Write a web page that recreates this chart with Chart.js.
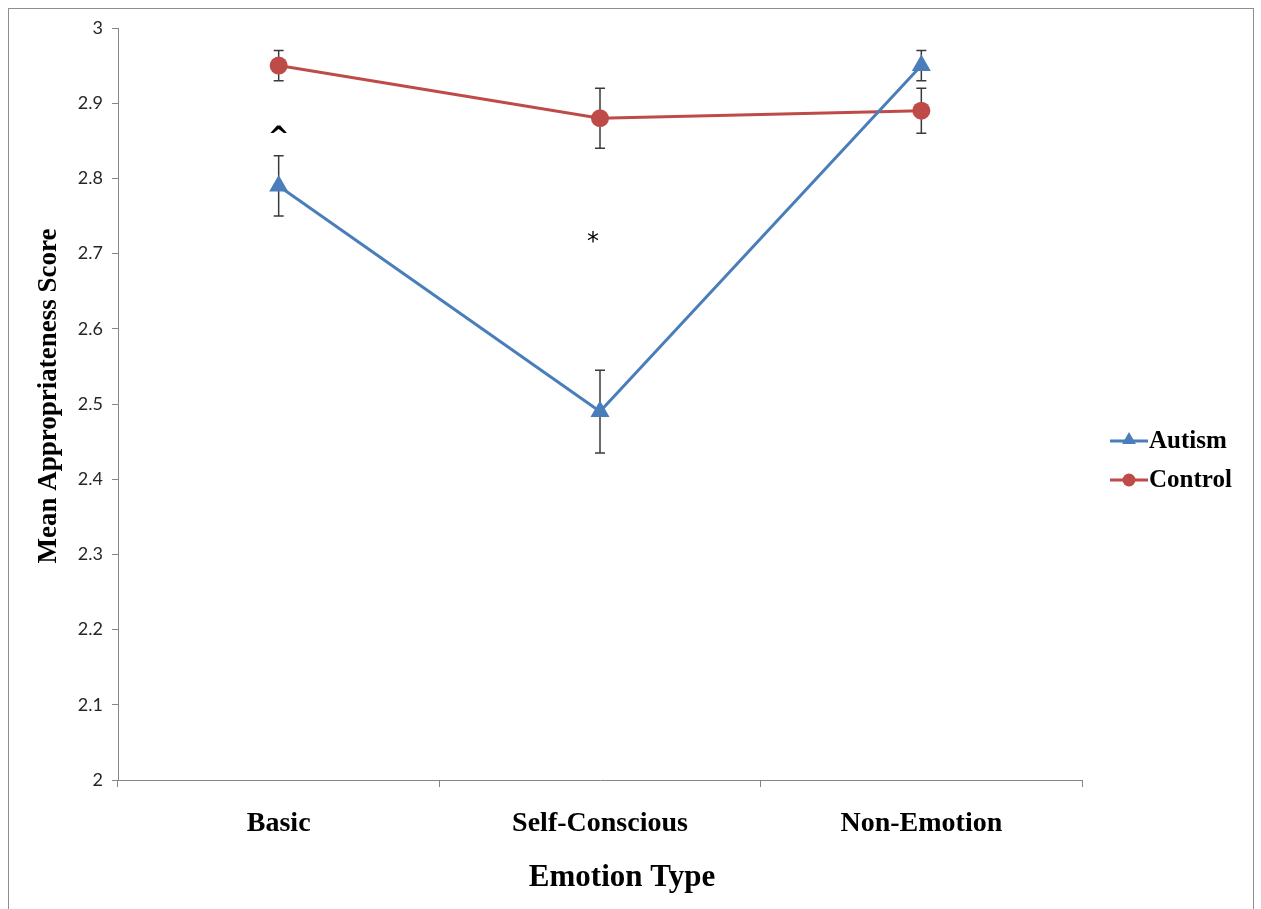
<!DOCTYPE html>
<html>
<head>
<meta charset="utf-8">
<script src="https://cdn.jsdelivr.net/npm/chart.js@4.4.1/dist/chart.umd.min.js"></script>
<style>
  html, body { margin: 0; padding: 0; background: #fff; overflow: hidden; }
  #frame {
    position: absolute; left: 8px; top: 8px; width: 1246px; height: 940px;
    border: 1px solid #8e8e8e; box-sizing: border-box;
  }
  #chart { position: absolute; left: 0; top: 0; }
</style>
</head>
<body>
<div id="frame"></div>
<canvas id="chart" width="1261" height="909"></canvas>
<script>
// values
const categories = ["Basic", "Self-Conscious", "Non-Emotion"];
const autismMeans = [2.79, 2.49, 2.95];
const autismErrors = [0.04, 0.055, 0.02];
const controlMeans = [2.95, 2.88, 2.89];
const controlErrors = [0.02, 0.04, 0.03];
const yTicks = [2, 2.1, 2.2, 2.3, 2.4, 2.5, 2.6, 2.7, 2.8, 2.9, 3];
const markCategories = ["Basic", "Self-Conscious"];
const markValues = [2.86, 2.715];
const markTexts = ["^", "*"];

const BLUE = "#4a7ebb";
const RED = "#be4b48";
const AXIS = "#868686";
const SERIF = "'Liberation Serif', 'Times New Roman', serif";

// error bars, drawn under the lines and markers
const errorBars = {
  id: "errorBars",
  beforeDatasetsDraw(chart) {
    const { ctx, scales } = chart;
    const errs = [autismErrors, controlErrors];
    ctx.save();
    ctx.strokeStyle = "#3a3a3a";
    ctx.lineWidth = 1.5;
    chart.data.datasets.forEach((ds, i) => {
      ds.data.forEach((v, j) => {
        const x = scales.x.getPixelForValue(j);
        const top = scales.y.getPixelForValue(v + errs[i][j]);
        const bot = scales.y.getPixelForValue(v - errs[i][j]);
        ctx.beginPath();
        ctx.moveTo(x, top); ctx.lineTo(x, bot);
        ctx.moveTo(x - 5, top); ctx.lineTo(x + 5, top);
        ctx.moveTo(x - 5, bot); ctx.lineTo(x + 5, bot);
        ctx.stroke();
      });
    });
    ctx.restore();
  },
};

// titles, significance marks and the legend on the right
const extras = {
  id: "extras",
  afterDraw(chart) {
    const { ctx, chartArea, scales } = chart;
    ctx.save();
    ctx.fillStyle = "#000";
    ctx.textAlign = "center";
    ctx.textBaseline = "middle";

    ctx.font = "bold 31px " + SERIF;
    ctx.fillText("Emotion Type", chartArea.left + 504, 878);

    ctx.save();
    ctx.translate(49, (chartArea.top + chartArea.bottom) / 2 - 8);
    ctx.rotate(-Math.PI / 2);
    ctx.font = "bold 27px " + SERIF;
    ctx.fillText("Mean Appropriateness Score", 0, 0);
    ctx.restore();

    markTexts.forEach((t, i) => {
      const x = scales.x.getPixelForValue(categories.indexOf(markCategories[i]));
      const y = scales.y.getPixelForValue(markValues[i]);
      ctx.font = (t === "^" ? "bold 26px " : "24px ") + "'DejaVu Sans', sans-serif";
      ctx.fillText(t, t === "*" ? x - 7 : x, t === "^" ? y + 5 : y);
    });

    const items = [
      { label: "Autism", color: BLUE, style: "triangle", r: 8, y: 441 },
      { label: "Control", color: RED, style: "circle", r: 6.5, y: 480 },
    ];
    ctx.textAlign = "left";
    ctx.font = "bold 25px " + SERIF;
    items.forEach((it) => {
      ctx.strokeStyle = it.color;
      ctx.lineWidth = 3;
      ctx.beginPath();
      ctx.moveTo(1110, it.y); ctx.lineTo(1148, it.y);
      ctx.stroke();
      ctx.fillStyle = it.color;
      Chart.helpers.drawPoint(ctx, { pointStyle: it.style, radius: it.r, borderWidth: 0 }, 1129, it.style === "triangle" ? it.y - 1 : it.y);
      ctx.fillStyle = "#000";
      ctx.fillText(it.label, 1149, it.y + 1);
    });
    ctx.restore();
  },
};

new Chart(document.getElementById("chart"), {
  type: "line",
  data: {
    labels: categories,
    datasets: [
      {
        label: "Autism",
        data: autismMeans,
        borderColor: BLUE,
        backgroundColor: BLUE,
        borderWidth: 3,
        pointStyle: "triangle",
        pointRadius: 11,
        pointBorderWidth: 0,
        tension: 0,
      },
      {
        label: "Control",
        data: controlMeans,
        borderColor: RED,
        backgroundColor: RED,
        borderWidth: 3,
        pointStyle: "circle",
        pointRadius: 9,
        pointBorderWidth: 0,
        tension: 0,
      },
    ],
  },
  options: {
    responsive: false,
    animation: false,
    layout: { padding: { left: 0, top: 28, right: 179, bottom: 0 } },
    plugins: {
      legend: { display: false },
      tooltip: { enabled: false },
    },
    scales: {
      x: {
        offset: true,
        grid: { offset: true, drawOnChartArea: false, tickLength: 7, color: AXIS },
        border: { color: AXIS },
        ticks: {
          color: "#000",
          padding: 20,
          font: { family: SERIF, size: 28, weight: "bold" },
        },
        afterFit: (s) => { s.height = 129; },
      },
      y: {
        min: 2,
        max: 3,
        afterBuildTicks: (s) => { s.ticks = yTicks.map((v) => ({ value: v })); },
        grid: { drawOnChartArea: false, tickLength: 6, color: AXIS },
        border: { color: AXIS },
        ticks: {
          color: "#262626",
          padding: 9,
          font: { family: "Lato, 'Liberation Sans', sans-serif", size: 18 },
          callback: (v) => String(v),
        },
        afterFit: (s) => { s.width = 118; },
      },
    },
  },
  plugins: [errorBars, extras],
});
</script>
</body>
</html>
